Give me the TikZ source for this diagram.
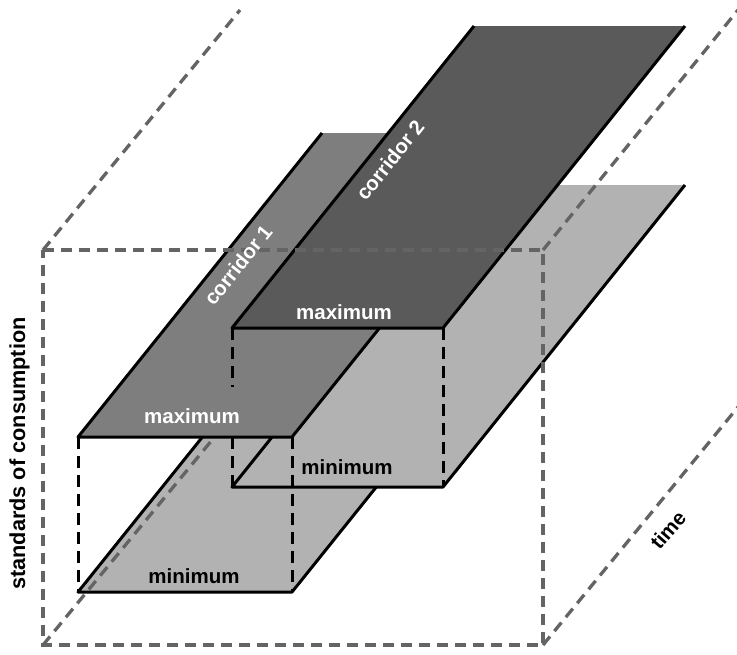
\documentclass[tikz,border=0pt]{standalone}
\usepackage{fontspec}
\setmainfont{Liberation Sans}
\begin{document}
\begin{tikzpicture}[x=1pt,y=-1pt,
  boxline/.style={draw=boxgray,line width=3.3pt,dash pattern=on 11pt off 7pt},
  edgeline/.style={draw=black,line width=3pt,line join=round},
  vdash/.style={draw=black,line width=3pt,dash pattern=on 12pt off 7pt},
  lbl/.style={font=\fontsize{20.5}{24}\selectfont\bfseries,inner sep=0pt},
]
\definecolor{boxgray}{RGB}{100,100,100}
\definecolor{maxone}{RGB}{126,126,126}
\definecolor{maxtwo}{RGB}{90,90,90}
\definecolor{minpl}{RGB}{178,178,178}
\useasboundingbox (0,0) rectangle (737,654);
\fill[white] (0,0) rectangle (737,654);

% coordinates
\coordinate (A1) at (78,592);  \coordinate (B1) at (292,592);
\coordinate (C1) at (536,288); \coordinate (D1) at (322,288);
\coordinate (A2) at (232,487); \coordinate (B2) at (443,487);
\coordinate (C2) at (685,185); \coordinate (D2) at (474,185);
\coordinate (E1) at (78,437);  \coordinate (F1) at (292,437);
\coordinate (G1) at (536,133); \coordinate (H1) at (322,133);
\coordinate (E2) at (232,328); \coordinate (F2) at (443,328);
\coordinate (G2) at (685,26);  \coordinate (H2) at (474,26);
\coordinate (K) at (232,387);
\coordinate (TL) at (43,250); \coordinate (TR) at (543,250);
\coordinate (BL) at (43,645); \coordinate (BR) at (543,645);
\coordinate (TLb) at (240,10); \coordinate (TRb) at (738,10);
\coordinate (BRb) at (738,407); \coordinate (BLb) at (250,394);

% corridor 1 minimum
\fill[minpl] (A1) -- (B1) -- (C1) -- (D1) -- cycle;
\draw[edgeline] (D1) -- (A1) -- (B1) -- (C1);
% corridor 2 minimum
\fill[minpl] (A2) -- (B2) -- (C2) -- (D2) -- cycle;
\draw[edgeline] (D2) -- (A2) -- (B2) -- (C2);
% vertical dashed edges (lower parts)
\draw[vdash] (E1) -- (A1);
\draw[vdash] (F1) -- (B1);
\draw[vdash] (232,437) -- (A2);
% hidden box edge
\draw[boxline] (BL) -- (BLb);
% corridor 1 maximum
\fill[maxone] (E1) -- (F1) -- (G1) -- (H1) -- cycle;
\draw[edgeline] (H1) -- (E1) -- (F1) -- (G1);
% corridor 2 vertical dashed edges
\draw[vdash] (E2) -- (K);
\draw[vdash] (F2) -- (B2);
% corridor 2 maximum
\fill[maxtwo] (E2) -- (F2) -- (G2) -- (H2) -- cycle;
\draw[edgeline] (H2) -- (E2) -- (F2) -- (G2);

% box
\draw[boxline] (TL) -- (TR) -- (BR) -- (BL) -- cycle;
\draw[boxline] (TL) -- (TLb);
\draw[boxline] (TR) -- (TRb);
\draw[boxline] (BR) -- (BRb);

% labels
\node[lbl,white,rotate=51.3] (c1) at (238,265) {corridor 1};
\node[lbl,white,rotate=51.3] (c2) at (390,160) {corridor 2};
\node[lbl,white] (mx2) at (344,312) {maximum};
\node[lbl,white] (mx1) at (192,416) {maximum};
\node[lbl,black] (mn2) at (347,467) {minimum};
\node[lbl,black] (mn1) at (194,576) {minimum};
\node[lbl,black,rotate=49] (tm) at (668,530) {time};
\node[lbl,black,rotate=90,font=\fontsize{21.7}{26}\selectfont\bfseries] (sc) at (19.5,453.5) {standards of consumption};
\end{tikzpicture}
\end{document}
